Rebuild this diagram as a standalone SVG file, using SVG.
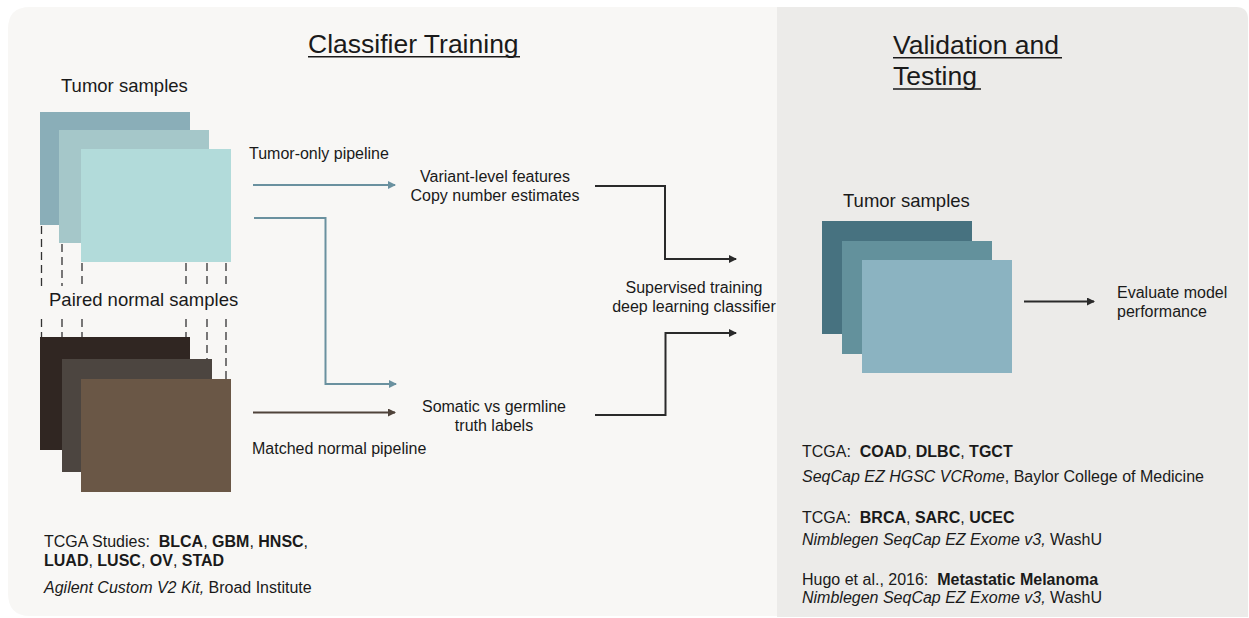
<svg xmlns="http://www.w3.org/2000/svg" width="1249" height="618" viewBox="0 0 1249 618">
<defs>
<style>
text{font-family:"Liberation Sans",Arial,Helvetica,sans-serif;fill:#1a1a1a}
.t{font-size:26.5px}
.h{font-size:18.5px}
.s{font-size:16px}
.b{font-weight:bold}
.i{font-style:italic}
.dash{stroke:#333;stroke-width:1.3;stroke-dasharray:8,5;fill:none}
.teal{stroke:#6A919F;stroke-width:2;fill:none}
.brown{stroke:#4F433A;stroke-width:2;fill:none}
.blk{stroke:#2a2a2a;stroke-width:2;fill:none}
</style>
<marker id="aT" markerWidth="8" markerHeight="8" refX="7" refY="4" orient="auto" markerUnits="userSpaceOnUse"><path d="M0,0 L8,4 L0,8 z" fill="#6A919F"/></marker>
<marker id="aB" markerWidth="8" markerHeight="8" refX="7" refY="4" orient="auto" markerUnits="userSpaceOnUse"><path d="M0,0 L8,4 L0,8 z" fill="#4F433A"/></marker>
<marker id="aK" markerWidth="8" markerHeight="8" refX="7" refY="4" orient="auto" markerUnits="userSpaceOnUse"><path d="M0,0 L8,4 L0,8 z" fill="#2a2a2a"/></marker>
</defs>
<rect width="1249" height="618" fill="#ffffff"/>
<g id="panels">
<path d="M777,7 L30,7 Q8,7 8,29 L8,593 Q8,616 30,616 L777,616 z" fill="#F8F7F5"/>
<path d="M777,7 L1236,7 Q1248,7 1248,19 L1248,617 L777,617 z" fill="#ECEBE9"/>
</g>
<g id="titles">
<text class="t" x="308" y="53">Classifier Training</text>
<line x1="308" y1="56.8" x2="520" y2="56.8" stroke="#1a1a1a" stroke-width="1.6"/>
<text class="t" x="893" y="54">Validation and</text>
<line x1="893" y1="57.8" x2="1062" y2="57.8" stroke="#1a1a1a" stroke-width="1.6"/>
<text class="t" x="893" y="85">Testing</text>
<line x1="893" y1="89" x2="981" y2="89" stroke="#1a1a1a" stroke-width="1.6"/>
</g>
<g id="tumor-train">
<text class="h" x="61" y="92">Tumor samples</text>
<rect x="40" y="112" width="150" height="113" fill="#8AAEB8"/>
<rect x="59" y="130" width="150" height="113" fill="#A5C7C9"/>
<rect x="81" y="149" width="150" height="113" fill="#B2DBDA"/>
</g>
<g id="dashes">
<path class="dash" d="M41.5,226 V286 M62,244 V286 M82,263 V286 M186,263 V286 M207,263 V286 M226,263 V286"/>
<path class="dash" d="M41.5,319 V337 M62,319 V337 M82,319 V337 M186,319 V337 M207,319 V359 M226,319 V379"/>
</g>
<g id="normal-train">
<text class="h" x="49" y="306">Paired normal samples</text>
<rect x="40" y="337" width="150" height="113" fill="#302622"/>
<rect x="62" y="359" width="150" height="113" fill="#4C4540"/>
<rect x="81" y="379" width="150" height="113" fill="#6A5746"/>
</g>
<g id="labels">
<text class="s" x="249" y="159">Tumor-only pipeline</text>
<text class="s" x="252" y="454">Matched normal pipeline</text>
</g>
<g id="features">
<text class="s" x="495" y="182" text-anchor="middle">Variant-level features</text>
<text class="s" x="495" y="201" text-anchor="middle">Copy number estimates</text>
</g>
<g id="truth">
<text class="s" x="494" y="412" text-anchor="middle">Somatic vs germline</text>
<text class="s" x="494" y="431" text-anchor="middle">truth labels</text>
</g>
<g id="classifier">
<text class="s" x="694" y="293" text-anchor="middle">Supervised training</text>
<text class="s" x="694" y="312" text-anchor="middle">deep learning classifier</text>
</g>
<g id="tumor-test">
<text class="h" x="843" y="207">Tumor samples</text>
<rect x="822" y="221" width="150" height="113" fill="#477280"/>
<rect x="842" y="241" width="150" height="113" fill="#63919C"/>
<rect x="862" y="260" width="150" height="113" fill="#8BB3C1"/>
</g>
<g id="evaluate">
<text class="s" x="1117" y="298">Evaluate model</text>
<text class="s" x="1117" y="317">performance</text>
</g>
<g id="connectors">
<path class="teal" d="M253,185 H395" marker-end="url(#aT)"/>
<path class="teal" d="M254,218 H325.5 V384 H396" marker-end="url(#aT)"/>
<path class="brown" d="M253,412.5 H395" marker-end="url(#aB)"/>
<path class="blk" d="M595,186 H665 V259 H736" marker-end="url(#aK)"/>
<path class="blk" d="M595,415 H665.5 V333 H736" marker-end="url(#aK)"/>
<path class="blk" d="M1024,301.5 H1094" marker-end="url(#aK)"/>
</g>
<g id="studies-train">
<text class="s" x="44" y="547">TCGA Studies:&#160; <tspan class="b">BLCA</tspan>, <tspan class="b">GBM</tspan>, <tspan class="b">HNSC</tspan>,</text>
<text class="s" x="44" y="566"><tspan class="b">LUAD</tspan>, <tspan class="b">LUSC</tspan>, <tspan class="b">OV</tspan>, <tspan class="b">STAD</tspan></text>
<text class="s" x="44" y="593"><tspan class="i">Agilent Custom V2 Kit,</tspan> Broad Institute</text>
</g>
<g id="studies-test">
<text class="s" x="802" y="457">TCGA:&#160; <tspan class="b">COAD</tspan>, <tspan class="b">DLBC</tspan>, <tspan class="b">TGCT</tspan></text>
<text class="s" x="802" y="482"><tspan class="i">SeqCap EZ HGSC VCRome</tspan>, Baylor College of Medicine</text>
<text class="s" x="802" y="523">TCGA:&#160; <tspan class="b">BRCA</tspan>, <tspan class="b">SARC</tspan>, <tspan class="b">UCEC</tspan></text>
<text class="s" x="802" y="545"><tspan class="i">Nimblegen SeqCap EZ Exome v3,</tspan> WashU</text>
<text class="s" x="802" y="585">Hugo et al., 2016:&#160; <tspan class="b">Metastatic Melanoma</tspan></text>
<text class="s" x="802" y="603"><tspan class="i">Nimblegen SeqCap EZ Exome v3,</tspan> WashU</text>
</g>
</svg>
